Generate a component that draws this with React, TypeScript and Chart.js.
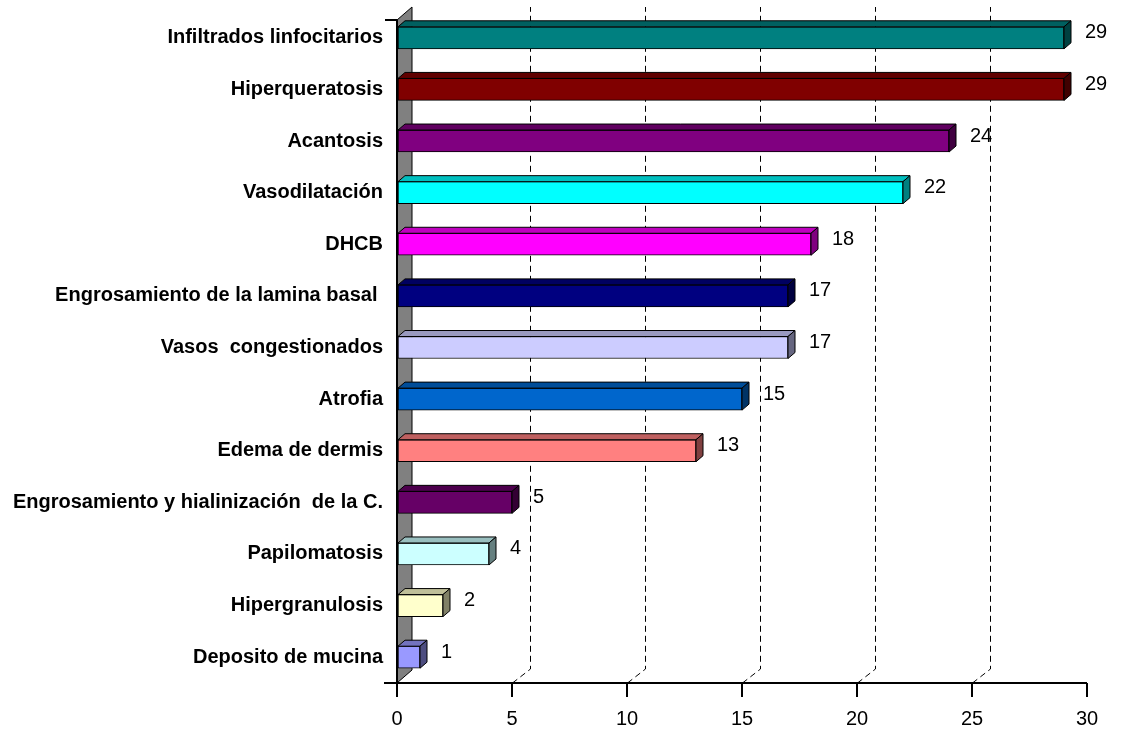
import React, { useEffect, useRef } from "react";
import { Chart, registerables } from "chart.js";

Chart.register(...registerables);

// Hallazgos histológicos (frecuencia)
const categories = [
  "Infiltrados linfocitarios",
  "Hiperqueratosis",
  "Acantosis",
  "Vasodilatación",
  "DHCB",
  "Engrosamiento de la lamina basal ",
  "Vasos  congestionados",
  "Atrofia",
  "Edema de dermis",
  "Engrosamiento y hialinización  de la C.",
  "Papilomatosis",
  "Hipergranulosis",
  "Deposito de mucina",
];

const values = [29, 29, 24, 22, 18, 17, 17, 15, 13, 5, 4, 2, 1];

const xMin = 0;
const xMax = 30;
const xStep = 5;

const barColors = [
  "#008080",
  "#800000",
  "#800080",
  "#00FFFF",
  "#FF00FF",
  "#000080",
  "#CCCCFF",
  "#0066CC",
  "#FF8080",
  "#660066",
  "#CCFFFF",
  "#FFFFCC",
  "#9999FF",
];

const FONT = "'Liberation Sans', Arial, sans-serif";

// depth of the floor/back wall and of each bar
const WALL_DX = 15;
const WALL_DY = -13;
const GRID_DX = 18;
const GRID_DY = -14;
const BAR_DX = 7;
const BAR_DY = -6;
const FRONT_TOP = 20;

function shade(hex: string, f: number): string {
  const n = parseInt(hex.slice(1), 16);
  const r = Math.round(((n >> 16) & 255) * f);
  const g = Math.round(((n >> 8) & 255) * f);
  const b = Math.round((n & 255) * f);
  return `rgb(${r},${g},${b})`;
}

const depthPlugin = {
  id: "depth3d",
  beforeDatasetsDraw(chart: any) {
    const { ctx, chartArea, scales } = chart;
    const xs = scales.x;
    const left = chartArea.left;
    const bottom = chartArea.bottom;
    const right = chartArea.right;
    const backTop = FRONT_TOP + WALL_DY;
    ctx.save();

    // dashed gridlines on floor and back wall
    ctx.strokeStyle = "#000";
    ctx.lineWidth = 1;
    ctx.setLineDash([6, 4]);
    const ticks = xs.ticks;
    for (let i = 1; i < ticks.length - 1; i++) {
      const px = Math.round(xs.getPixelForValue(ticks[i].value)) + 0.5;
      ctx.beginPath();
      ctx.moveTo(px, bottom);
      ctx.lineTo(px + GRID_DX, bottom + GRID_DY);
      ctx.lineTo(px + GRID_DX, backTop);
      ctx.stroke();
    }
    ctx.setLineDash([]);

    // side wall
    ctx.beginPath();
    ctx.moveTo(left, bottom);
    ctx.lineTo(left + WALL_DX, bottom + WALL_DY);
    ctx.lineTo(left + WALL_DX, backTop);
    ctx.lineTo(left, FRONT_TOP);
    ctx.closePath();
    ctx.fillStyle = "#808080";
    ctx.fill();
    ctx.lineWidth = 1;
    ctx.strokeStyle = "#000";
    ctx.stroke();

    // axes
    ctx.lineWidth = 2;
    ctx.beginPath();
    ctx.moveTo(left, FRONT_TOP);
    ctx.lineTo(left, bottom);
    ctx.moveTo(left - 12, FRONT_TOP);
    ctx.lineTo(left, FRONT_TOP);
    ctx.moveTo(left - 13, bottom);
    ctx.lineTo(right, bottom);
    ctx.stroke();
    ctx.restore();
  },
  afterDatasetsDraw(chart: any) {
    const { ctx } = chart;
    const meta = chart.getDatasetMeta(0);
    ctx.save();
    ctx.lineWidth = 1;
    ctx.strokeStyle = "#000";
    meta.data.forEach((el: any, i: number) => {
      const { x, y, base, height } = el.getProps(["x", "y", "base", "height"], true);
      const top = y - height / 2;
      const bot = y + height / 2;
      const color = barColors[i];
      // top face
      ctx.beginPath();
      ctx.moveTo(base, top);
      ctx.lineTo(base + BAR_DX, top + BAR_DY);
      ctx.lineTo(x + BAR_DX, top + BAR_DY);
      ctx.lineTo(x, top);
      ctx.closePath();
      ctx.fillStyle = shade(color, 0.75);
      ctx.fill();
      ctx.stroke();
      // end face
      ctx.beginPath();
      ctx.moveTo(x, top);
      ctx.lineTo(x + BAR_DX, top + BAR_DY);
      ctx.lineTo(x + BAR_DX, bot + BAR_DY);
      ctx.lineTo(x, bot);
      ctx.closePath();
      ctx.fillStyle = shade(color, 0.5);
      ctx.fill();
      ctx.stroke();
      // value label
      ctx.fillStyle = "#000";
      ctx.font = `20px ${FONT}`;
      ctx.textAlign = "left";
      ctx.textBaseline = "middle";
      ctx.fillText(String(values[i]), x + 21, y - 5);
    });
    ctx.restore();
  },
};

export default function App() {
  const canvasRef = useRef<HTMLCanvasElement | null>(null);

  useEffect(() => {
    const canvas = canvasRef.current;
    if (!canvas) return;
    const chart = new Chart(canvas, {
      type: "bar",
      data: {
        labels: categories,
        datasets: [
          {
            data: values,
            backgroundColor: barColors,
            borderColor: "#000",
            borderWidth: 1,
            borderSkipped: false,
            barThickness: 22,
          },
        ],
      },
      plugins: [depthPlugin],
      options: {
        indexAxis: "y",
        responsive: false,
        animation: false,
        events: [],
        layout: { padding: { left: 0, top: 12, right: 37, bottom: 0 } },
        plugins: {
          legend: { display: false },
          tooltip: { enabled: false },
          title: { display: false },
        },
        scales: {
          x: {
            type: "linear",
            min: xMin,
            max: xMax,
            ticks: {
              stepSize: xStep,
              color: "#000",
              font: { family: FONT, size: 20 },
              padding: 10,
              maxRotation: 0,
            },
            grid: {
              drawOnChartArea: false,
              drawTicks: true,
              tickLength: 14,
              color: "#000",
              lineWidth: 2,
            },
            border: { display: false },
            afterFit: (s: any) => {
              s.height = 48;
            },
          },
          y: {
            type: "category",
            offset: true,
            ticks: {
              color: "#000",
              font: { family: FONT, size: 20, weight: "bold" },
              padding: 14,
              autoSkip: false,
            },
            grid: { display: false, drawTicks: false, tickLength: 0 },
            border: { display: false },
            afterFit: (s: any) => {
              s.width = 397;
              s.paddingTop = 0;
              s.paddingBottom = 0;
            },
          },
        },
      },
    });
    return () => chart.destroy();
  }, []);

  return (
    <div style={{ position: "absolute", left: 0, top: 0, width: 1124, height: 731, background: "#fff" }}>
      <canvas ref={canvasRef} width={1124} height={731} style={{ display: "block" }} />
    </div>
  );
}
